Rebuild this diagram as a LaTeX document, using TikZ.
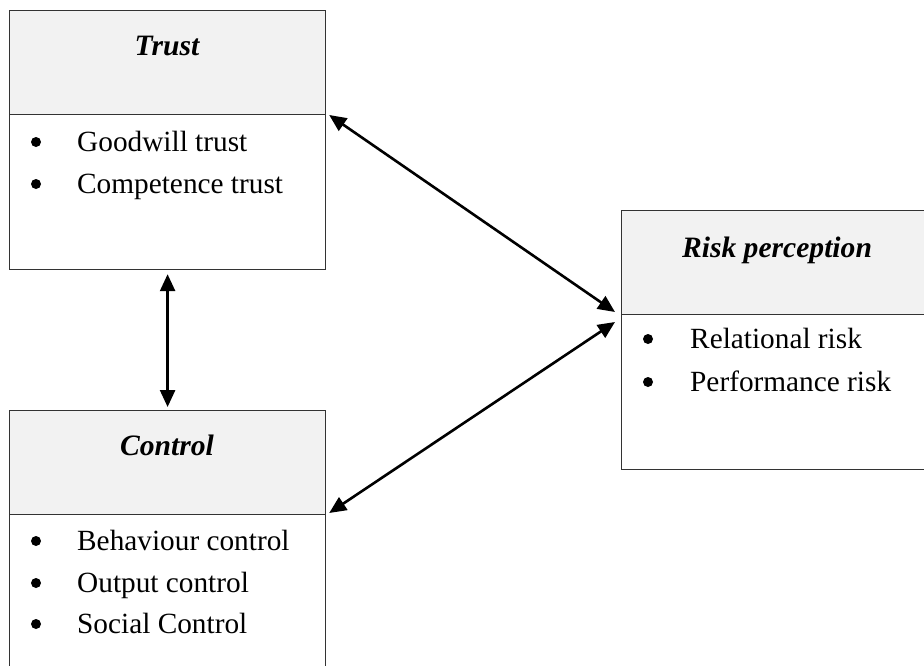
\documentclass[tikz,border=0pt]{standalone}
\usepackage{fontspec}
\setmainfont{Liberation Serif}
\usetikzlibrary{calc,arrows.meta}

\begin{document}
\begin{tikzpicture}[x=1pt,y=-1pt,
  header/.style={draw=black!80, line width=1.2pt, fill=black!5, minimum width=316pt,
    minimum height=104pt, inner sep=0pt, anchor=north west},
  body/.style={draw=black!80, line width=1.2pt, fill=white, minimum width=316pt,
    minimum height=155pt, inner sep=0pt, anchor=north west},
  title/.style={font=\fontsize{29.6}{35}\selectfont\bfseries\itshape, inner sep=0pt, anchor=base},
  item/.style={font=\fontsize{29.3}{35}\selectfont, inner sep=0pt, anchor=base west},
  dot/.style={circle, fill=black, inner sep=0pt, minimum size=10pt},
  link/.style={line width=2.6pt, {Triangle[length=17pt,width=15pt]}-{Triangle[length=17pt,width=15pt]}}
]
\useasboundingbox (0,0) rectangle (924,665);
\clip (0,0) rectangle (924,665);

% Trust
\node[header] (trustH) at (9,10) {};
\node[body] (trustB) at (9,114) {};
\node[title] (trustT) at (167,55) {Trust};
\node[dot] (trustD1) at (36,142) {};
\node[item] (trustI1) at (77,151) {Goodwill trust};
\node[dot] (trustD2) at (36,184) {};
\node[item] (trustI2) at (77,193) {Competence trust};

% Control
\node[header] (ctrlH) at (9,410) {};
\node[body, minimum height=170pt] (ctrlB) at (9,514) {};
\node[title] (ctrlT) at (167,455) {Control};
\node[dot] (ctrlD1) at (36,541) {};
\node[item] (ctrlI1) at (77,550) {Behaviour control};
\node[dot] (ctrlD2) at (36,583) {};
\node[item] (ctrlI2) at (77,592) {Output control};
\node[dot] (ctrlD3) at (36,624) {};
\node[item] (ctrlI3) at (77,633) {Social Control};

% Risk perception
\node[header] (riskH) at (621,210) {};
\node[body] (riskB) at (621,314) {};
\node[title] (riskT) at (777,257) {Risk perception};
\node[dot] (riskD1) at (648,339) {};
\node[item] (riskI1) at (690,348) {Relational risk};
\node[dot] (riskD2) at (648,382) {};
\node[item] (riskI2) at (690,391) {Performance risk};

% Connectors
\draw[link] ($(trustB.north east)+(3,1)$) -- ($(riskB.north west)+(-6,-2)$);
\draw[link] ($(riskB.north west)+(-6,8)$) -- ($(ctrlB.north east)+(3,-1)$);
\draw[link] ($(trustB.south)+(0,4)$) -- ($(ctrlH.north)+(0,-3)$);
\end{tikzpicture}
\end{document}
